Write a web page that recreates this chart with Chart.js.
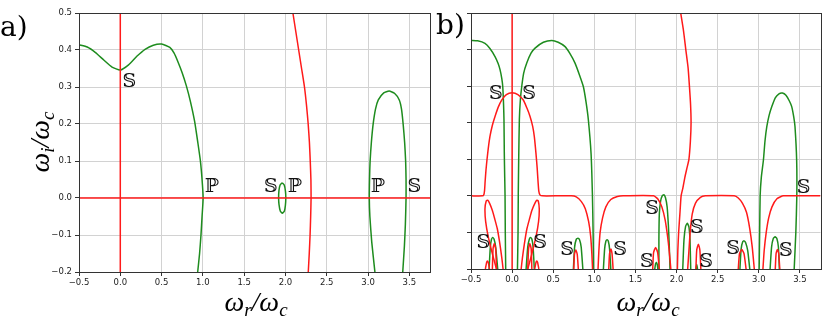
<!DOCTYPE html>
<html>
<head>
<meta charset="utf-8">
<script src="https://cdn.jsdelivr.net/npm/chart.js@4.4.1/dist/chart.umd.min.js"></script>
<style>
  body { margin: 0; background: #fff; }
  #wrap { position: relative; width: 830px; height: 316px; overflow: hidden; }
  canvas { position: absolute; top: 0; }
  .tag { position: absolute; font-family: "DejaVu Serif", serif; font-size: 28px; line-height: 28px; }
  .lab { position: absolute; font-family: "Liberation Serif", serif; font-style: italic; font-size: 28px; line-height: 28px; white-space: nowrap; transform: translate(-50%, -50%); }
  .lab sub { font-size: 19px; vertical-align: -5px; line-height: 0; }
</style>
</head>
<body>
<div id="wrap">
  <canvas id="chartA" width="435" height="316" style="left:0"></canvas>
  <canvas id="chartB" width="395" height="316" style="left:435px"></canvas>
  <div class="tag" style="left:0;top:13px">a)</div>
  <div class="tag" style="left:436px;top:11px">b)</div>
  <div class="lab" style="left:40px;top:142px;transform:translate(-50%,-50%) rotate(-90deg)">ω<sub>i</sub>/ω<sub>c</sub></div>
  <div class="lab" style="left:256px;top:302px">ω<sub>r</sub>/ω<sub>c</sub></div>
  <div class="lab" style="left:648px;top:302px">ω<sub>r</sub>/ω<sub>c</sub></div>
</div>
<script>
// axes
const xTicks = [-0.5, 0, 0.5, 1, 1.5, 2, 2.5, 3, 3.5];
const yTicks = [-0.2, -0.1, 0, 0.1, 0.2, 0.3, 0.4, 0.5];

// panel a) contour points [wr, wi]
const aRedV = [[0, -0.2], [0, 0.5]];
const aRedH = [[-0.5, 0], [3.75, 0]];
const aRedCurve = [[2.09, 0.5], [2.125, 0.45], [2.16, 0.4], [2.195, 0.35], [2.23, 0.3], [2.255, 0.25], [2.275, 0.2],
  [2.29, 0.15], [2.3, 0.1], [2.308, 0.05], [2.31, 0], [2.305, -0.05], [2.298, -0.1], [2.288, -0.15], [2.276, -0.2]];
const aGreenTop = [[-0.5, 0.414], [-0.4, 0.408], [-0.3, 0.393], [-0.2, 0.373], [-0.1, 0.354], [0, 0.346], [0.1, 0.36],
  [0.2, 0.383], [0.3, 0.402], [0.4, 0.413], [0.5, 0.416], [0.6, 0.407], [0.65, 0.392], [0.7, 0.367], [0.75, 0.338],
  [0.8, 0.303], [0.85, 0.26], [0.9, 0.207], [0.94, 0.148], [0.97, 0.1], [0.99, 0.05], [1.003, 0], [0.99, -0.05],
  [0.977, -0.1], [0.96, -0.15], [0.937, -0.2]];
const aGreenLoop = [[1.96, 0.041], [1.985, 0.035], [2.0, 0.018], [2.004, 0], [1.999, -0.02], [1.987, -0.035],
  [1.962, -0.041], [1.937, -0.035], [1.922, -0.018], [1.917, 0], [1.921, 0.02], [1.935, 0.035], [1.96, 0.041]];
const aGreenArch = [[3.083, -0.2], [3.045, -0.12], [3.022, -0.05], [3.015, 0], [3.018, 0.05], [3.025, 0.1], [3.04, 0.15],
  [3.06, 0.197], [3.09, 0.24], [3.124, 0.265], [3.19, 0.284], [3.255, 0.289], [3.32, 0.283], [3.378, 0.265],
  [3.405, 0.24], [3.426, 0.197], [3.443, 0.15], [3.455, 0.1], [3.46, 0.05], [3.46, 0], [3.452, -0.07], [3.44, -0.13], [3.42, -0.2]];
const aLabels = [['𝕊', 0.11, 0.313], ['ℙ', 1.11, 0.03], ['𝕊', 1.824, 0.03], ['ℙ', 2.115, 0.03], ['ℙ', 3.12, 0.03], ['𝕊', 3.56, 0.03]];

// panel b) contour points [wr, wi]
const bRedV = [[0, -0.2], [0, 0.5]];
const bRed0 = [[-0.5, 0], [-0.36, 0], [-0.343, 0.004], [-0.335, 0.015], [-0.328, 0.04], [-0.318, 0.07], [-0.305, 0.1],
  [-0.29, 0.13], [-0.27, 0.162], [-0.24, 0.193], [-0.208, 0.217], [-0.17, 0.242], [-0.127, 0.262], [-0.07, 0.277],
  [0, 0.282], [0.07, 0.277], [0.136, 0.262], [0.18, 0.24], [0.218, 0.217], [0.25, 0.19], [0.27, 0.162], [0.29, 0.116],
  [0.305, 0.075], [0.315, 0.04], [0.325, 0.012], [0.34, 0.002], [0.37, 0], [0.72, 0], [0.78, -0.003], [0.84, -0.015],
  [0.89, -0.035], [0.93, -0.07], [0.955, -0.11], [0.97, -0.16], [0.978, -0.2]];
const bRed1 = [[1.045, -0.2], [1.055, -0.15], [1.07, -0.1], [1.1, -0.06], [1.14, -0.03], [1.2, -0.01], [1.28, -0.002],
  [1.35, 0], [1.72, 0], [1.77, -0.008], [1.82, -0.03], [1.86, -0.065], [1.89, -0.11], [1.91, -0.15], [1.93, -0.2]];
const bRed2 = [[2.01, -0.2], [2.015, -0.15], [2.025, -0.1], [2.04, -0.05], [2.055, 0], [2.075, 0.02], [2.1, 0.05],
  [2.125, 0.075], [2.15, 0.1], [2.168, 0.15], [2.176, 0.2], [2.17, 0.25], [2.156, 0.3], [2.14, 0.35], [2.112, 0.4],
  [2.085, 0.45], [2.05, 0.5]];
const bRed3 = [[2.135, -0.2], [2.15, -0.15], [2.165, -0.1], [2.19, -0.05], [2.23, -0.02], [2.29, -0.004], [2.35, 0],
  [2.7, 0], [2.75, -0.006], [2.8, -0.02], [2.85, -0.045], [2.89, -0.09], [2.92, -0.14], [2.945, -0.2]];
const bRed4 = [[3.05, -0.2], [3.065, -0.15], [3.09, -0.1], [3.12, -0.06], [3.16, -0.03], [3.22, -0.008], [3.3, 0], [3.75, 0]];
const bRedFingers = [
  [[-0.19, -0.2], [-0.23, -0.167], [-0.29, -0.112], [-0.322, -0.07], [-0.33, -0.035], [-0.315, -0.014], [-0.298, -0.012],
   [-0.275, -0.02], [-0.24, -0.04], [-0.215, -0.06], [-0.18, -0.09], [-0.15, -0.13], [-0.125, -0.17], [-0.11, -0.2]],
  [[0.19, -0.2], [0.23, -0.167], [0.29, -0.112], [0.322, -0.07], [0.33, -0.035], [0.318, -0.014], [0.302, -0.012],
   [0.278, -0.02], [0.24, -0.04], [0.215, -0.06], [0.18, -0.09], [0.15, -0.13], [0.125, -0.17], [0.11, -0.2]],
  [[-0.24, -0.2], [-0.232, -0.145], [-0.217, -0.13], [-0.2, -0.145], [-0.19, -0.2]],
  [[0.19, -0.2], [0.2, -0.145], [0.215, -0.13], [0.232, -0.145], [0.24, -0.2]],
  [[-0.325, -0.2], [-0.31, -0.182], [-0.3, -0.178], [-0.29, -0.182], [-0.275, -0.2]],
  [[0.275, -0.2], [0.29, -0.182], [0.3, -0.178], [0.31, -0.182], [0.325, -0.2]],
  [[0.75, -0.2], [0.758, -0.16], [0.775, -0.148], [0.792, -0.16], [0.805, -0.2]],
  [[1.175, -0.2], [1.185, -0.158], [1.2, -0.145], [1.215, -0.158], [1.228, -0.2]],
  [[1.71, -0.2], [1.72, -0.155], [1.745, -0.141], [1.77, -0.155], [1.79, -0.2]],
  [[2.235, -0.2], [2.245, -0.148], [2.265, -0.132], [2.283, -0.148], [2.295, -0.2]],
  [[2.75, -0.2], [2.765, -0.158], [2.793, -0.147], [2.82, -0.158], [2.845, -0.2]],
  [[3.2, -0.2], [3.21, -0.158], [3.226, -0.147], [3.242, -0.158], [3.255, -0.2]]
];
const bGreenL = [[-0.5, 0.425], [-0.42, 0.424], [-0.33, 0.417], [-0.27, 0.403], [-0.208, 0.381], [-0.17, 0.362],
  [-0.147, 0.345], [-0.125, 0.32], [-0.114, 0.299], [-0.104, 0.25], [-0.099, 0.208], [-0.095, 0.116], [-0.09, 0.05],
  [-0.086, 0], [-0.083, -0.1], [-0.078, -0.2]];
const bGreenM = [[0.065, -0.2], [0.072, -0.1], [0.075, 0.007], [0.08, 0.1], [0.088, 0.208], [0.1, 0.262], [0.117, 0.299],
  [0.14, 0.335], [0.178, 0.363], [0.23, 0.39], [0.279, 0.404], [0.38, 0.42], [0.482, 0.425], [0.56, 0.42], [0.644, 0.408],
  [0.7, 0.39], [0.765, 0.363], [0.82, 0.33], [0.866, 0.299], [0.9, 0.255], [0.927, 0.208], [0.96, 0.116], [0.976, 0.007],
  [0.985, -0.1], [0.99, -0.2]];
const bGreenR = [[3.004, -0.2], [3.01, -0.1], [3.016, 0], [3.03, 0.05], [3.056, 0.098], [3.075, 0.15], [3.097, 0.189],
  [3.125, 0.22], [3.158, 0.244], [3.2, 0.268], [3.245, 0.279], [3.287, 0.281], [3.33, 0.275], [3.37, 0.26], [3.4, 0.244],
  [3.425, 0.215], [3.44, 0.189], [3.46, 0.098], [3.462, 0], [3.45, -0.1], [3.43, -0.2]];
const bGreenFingers = [
  [[-0.28, -0.2], [-0.265, -0.14], [-0.25, -0.118], [-0.236, -0.114], [-0.22, -0.118], [-0.2, -0.14], [-0.175, -0.2]],
  [[0.17, -0.2], [0.19, -0.14], [0.21, -0.118], [0.225, -0.114], [0.24, -0.118], [0.255, -0.14], [0.27, -0.2]],
  [[0.745, -0.2], [0.76, -0.14], [0.78, -0.119], [0.8, -0.116], [0.82, -0.12], [0.84, -0.14], [0.86, -0.2]],
  [[1.11, -0.2], [1.125, -0.145], [1.14, -0.124], [1.155, -0.12], [1.17, -0.124], [1.185, -0.145], [1.2, -0.2]],
  [[1.785, -0.2], [1.785, -0.12], [1.79, -0.05], [1.805, -0.015], [1.825, 0], [1.845, 0.003], [1.865, -0.005],
   [1.885, -0.03], [1.9, -0.08], [1.91, -0.13], [1.92, -0.2]],
  [[1.735, -0.2], [1.745, -0.185], [1.755, -0.182], [1.765, -0.188], [1.772, -0.2]],
  [[2.075, -0.2], [2.09, -0.12], [2.11, -0.083], [2.13, -0.075], [2.15, -0.085], [2.163, -0.12], [2.172, -0.2]],
  [[2.235, -0.2], [2.245, -0.188], [2.255, -0.2]],
  [[2.77, -0.2], [2.785, -0.145], [2.805, -0.125], [2.82, -0.123], [2.84, -0.128], [2.865, -0.15], [2.89, -0.2]],
  [[3.137, -0.2], [3.155, -0.14], [3.175, -0.117], [3.198, -0.112], [3.22, -0.117], [3.238, -0.14], [3.25, -0.2]]
];
const bLabels = [['𝕊', -0.198, 0.278], ['𝕊', 0.208, 0.278], ['𝕊', -0.35, -0.13], ['𝕊', 0.34, -0.13], ['𝕊', 0.668, -0.149],
  ['𝕊', 1.313, -0.148], ['𝕊', 1.702, -0.035], ['𝕊', 1.637, -0.18], ['𝕊', 2.246, -0.087], ['𝕊', 2.36, -0.18],
  ['𝕊', 2.688, -0.146], ['𝕊', 3.33, -0.152], ['𝕊', 3.545, 0.02]];

const RED = '#ff1a1a';
const GREEN = '#1e8c1e';

function line(pts, color) {
  return {
    data: pts.map(p => ({ x: p[0], y: p[1] })),
    borderColor: color,
    borderWidth: 1.5,
    pointRadius: 0,
    showLine: true,
    tension: 0.18,
    fill: false
  };
}

function fmt(v) {
  return v.toFixed(1).replace('-', '\u2212');
}

// closed box around the axes + S/P markers
const frame = {
  id: 'frame',
  afterDatasetsDraw(chart, args, opts) {
    const ctx = chart.ctx, sx = chart.scales.x, sy = chart.scales.y;
    ctx.save();
    ctx.fillStyle = '#111';
    ctx.font = '19px "DejaVu Serif", "DejaVu Sans"';
    ctx.textAlign = 'center';
    ctx.textBaseline = 'middle';
    opts.labels.forEach(l => ctx.fillText(l[0], sx.getPixelForValue(l[1]), sy.getPixelForValue(l[2])));
    const a = chart.chartArea;
    ctx.strokeStyle = '#333';
    ctx.lineWidth = 1;
    ctx.strokeRect(Math.round(a.left) + 0.5, Math.round(a.top) + 0.5, Math.round(a.right - a.left), Math.round(a.bottom - a.top));
    ctx.restore();
  }
};

function options(labels, yWidth, xHeight, padRight, showY) {
  const grid = { color: '#d2d2d2', lineWidth: 1, tickColor: '#333', tickLength: 4 };
  const tickFont = { family: 'DejaVu Sans', size: 8.5 };
  return {
    responsive: false,
    animation: false,
    devicePixelRatio: 1,
    layout: { padding: { top: 13, right: padRight, left: 0, bottom: 0 } },
    plugins: { legend: { display: false }, tooltip: { enabled: false }, frame: { labels: labels } },
    scales: {
      x: {
        type: 'linear', min: -0.5, max: 3.75,
        afterBuildTicks: s => { s.ticks = xTicks.map(v => ({ value: v })); },
        afterFit: s => { s.height = xHeight; },
        grid: grid,
        border: { color: '#333', width: 1 },
        ticks: { callback: fmt, font: tickFont, color: '#222', padding: 2, maxRotation: 0, autoSkip: false }
      },
      y: {
        type: 'linear', min: -0.2, max: 0.5,
        afterBuildTicks: s => { s.ticks = yTicks.map(v => ({ value: v })); },
        afterFit: s => { s.width = yWidth; },
        grid: grid,
        border: { color: '#333', width: 1 },
        ticks: { callback: v => showY ? fmt(v) : '', font: tickFont, color: '#222', padding: 3, autoSkip: false }
      }
    }
  };
}

new Chart(document.getElementById('chartA'), {
  type: 'scatter',
  data: {
    datasets: [
      line(aRedV, RED), line(aRedH, RED), line(aRedCurve, RED),
      line(aGreenTop, GREEN), line(aGreenLoop, GREEN), line(aGreenArch, GREEN)
    ]
  },
  options: options(aLabels, 79, 44, 5, true),
  plugins: [frame]
});

new Chart(document.getElementById('chartB'), {
  type: 'scatter',
  data: {
    datasets: [bRedV, bRed0, bRed1, bRed2, bRed3, bRed4].concat(bRedFingers).map(p => line(p, RED))
      .concat([bGreenL, bGreenM, bGreenR].concat(bGreenFingers).map(p => line(p, GREEN)))
  },
  options: options(bLabels, 36, 47, 9.5, false),
  plugins: [frame]
});
</script>
</body>
</html>
